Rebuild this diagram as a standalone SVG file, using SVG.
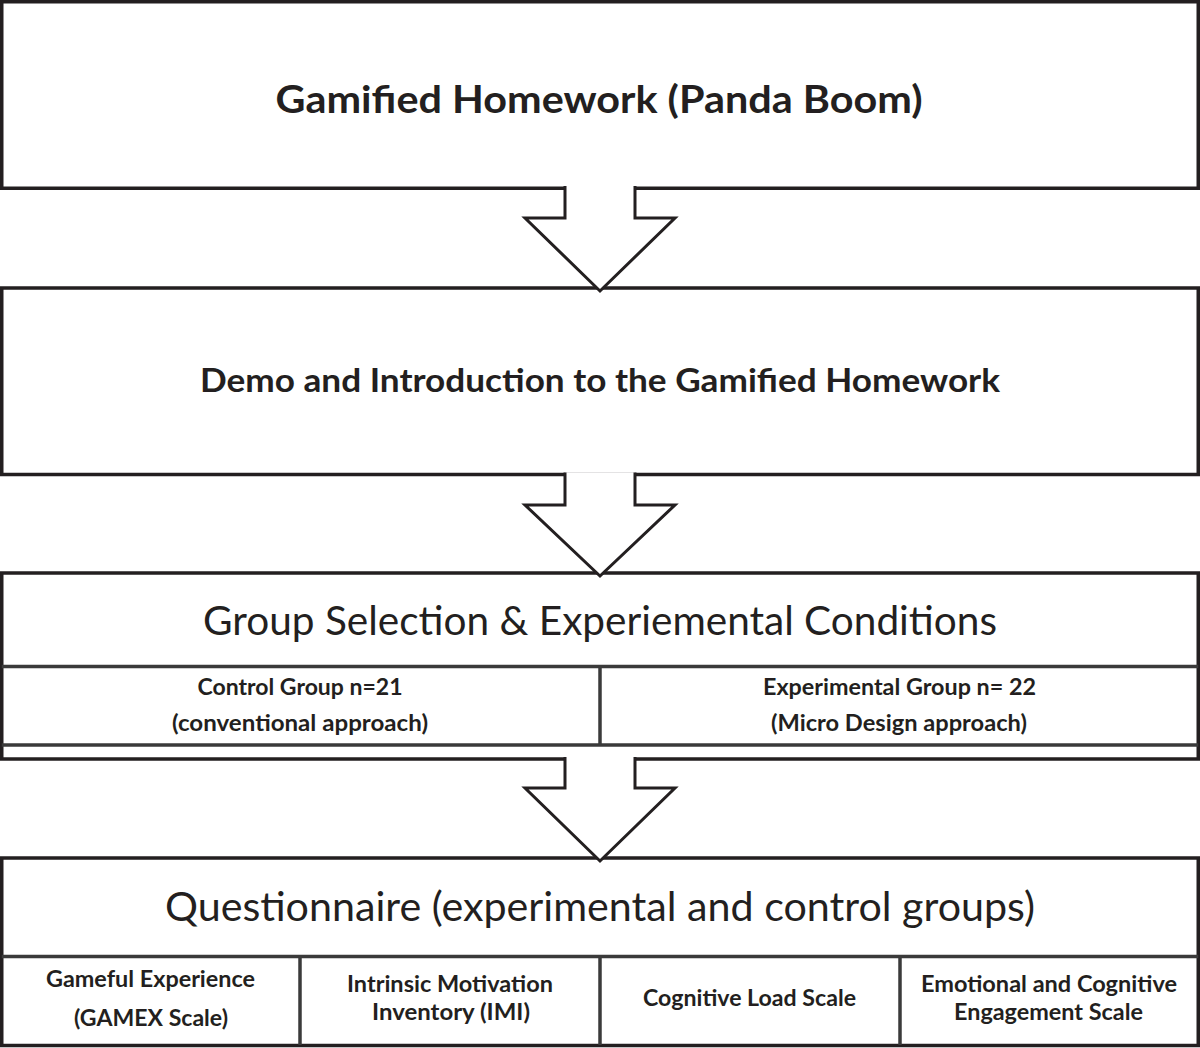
<svg xmlns="http://www.w3.org/2000/svg" width="1200" height="1048" viewBox="0 0 1200 1048">
<style>
.box{fill:#fff;stroke:#231f20;stroke-width:3.5}
.inner{stroke:#3a3a3a;stroke-width:3.5;fill:none}
.arrow{fill:#fff;stroke:#231f20;stroke-width:3;stroke-linejoin:miter}
text{font-family:Lato,"Liberation Sans",sans-serif;fill:#231f20;text-anchor:middle}
.b{font-weight:bold}
.t1{font-size:38px}
.t2{font-size:33px}
.t3{font-size:40px}
.s{font-size:22px}
</style>
<rect width="1200" height="1048" fill="#fff"/>
<g id="node-gamified">
<rect class="box" x="1.75" y="1.75" width="1196.5" height="186.5"/>
<text class="b t1" x="599" y="113" textLength="647" lengthAdjust="spacingAndGlyphs">Gamified Homework (Panda Boom)</text>
</g>
<g id="node-demo">
<rect class="box" x="1.75" y="288" width="1196.5" height="186.5"/>
<text class="b t2" x="600" y="392" textLength="800" lengthAdjust="spacingAndGlyphs">Demo and Introduction to the Gamified Homework</text>
</g>
<g id="node-group">
<rect class="box" x="1.75" y="573" width="1196.5" height="186"/>
<line class="inner" x1="1.75" y1="666.5" x2="1198.25" y2="666.5"/>
<line class="inner" x1="1.75" y1="745" x2="1198.25" y2="745"/>
<line class="inner" x1="600" y1="666.5" x2="600" y2="745"/>
<text class="t3" x="600" y="635" textLength="794" lengthAdjust="spacingAndGlyphs">Group Selection &amp; Experiemental Conditions</text>
<text class="b s" x="300" y="695" textLength="205" lengthAdjust="spacingAndGlyphs">Control Group n=21</text>
<text class="b s" x="300" y="731" textLength="256" lengthAdjust="spacingAndGlyphs">(conventional approach)</text>
<text class="b s" x="899.5" y="695" textLength="273" lengthAdjust="spacingAndGlyphs">Experimental Group n= 22</text>
<text class="b s" x="899" y="731" textLength="256" lengthAdjust="spacingAndGlyphs">(Micro Design approach)</text>
</g>
<g id="node-questionnaire">
<rect class="box" x="1.75" y="858" width="1196.5" height="187.5"/>
<line class="inner" x1="1.75" y1="956.5" x2="1198.25" y2="956.5"/>
<line class="inner" x1="300" y1="956.5" x2="300" y2="1045"/>
<line class="inner" x1="600" y1="956.5" x2="600" y2="1045"/>
<line class="inner" x1="900" y1="956.5" x2="900" y2="1045"/>
<text class="t3" x="600" y="921" textLength="870" lengthAdjust="spacingAndGlyphs">Questionnaire (experimental and control groups)</text>
<text class="b s" x="150.5" y="987" textLength="209" lengthAdjust="spacingAndGlyphs">Gameful Experience</text>
<text class="b s" x="151" y="1026" textLength="154" lengthAdjust="spacingAndGlyphs">(GAMEX Scale)</text>
<text class="b s" x="450" y="992" textLength="206" lengthAdjust="spacingAndGlyphs">Intrinsic Motivation</text>
<text class="b s" x="451" y="1020" textLength="158" lengthAdjust="spacingAndGlyphs">Inventory (IMI)</text>
<text class="b s" x="749.5" y="1006" textLength="213" lengthAdjust="spacingAndGlyphs">Cognitive Load Scale</text>
<text class="b s" x="1049" y="992" textLength="256" lengthAdjust="spacingAndGlyphs">Emotional and Cognitive</text>
<text class="b s" x="1048.5" y="1020" textLength="189" lengthAdjust="spacingAndGlyphs">Engagement Scale</text>
</g>
<g id="connectors">
<polyline class="arrow" points="565,186 565,218 525,218 600,291 675,218 635,218 635,186"/>
<polyline class="arrow" points="565,472.5 565,505 525,505 600,576 675,505 635,505 635,472.5"/>
<polyline class="arrow" points="565,757 565,788 525,788 600,861 675,788 635,788 635,757"/>
</g>
</svg>
